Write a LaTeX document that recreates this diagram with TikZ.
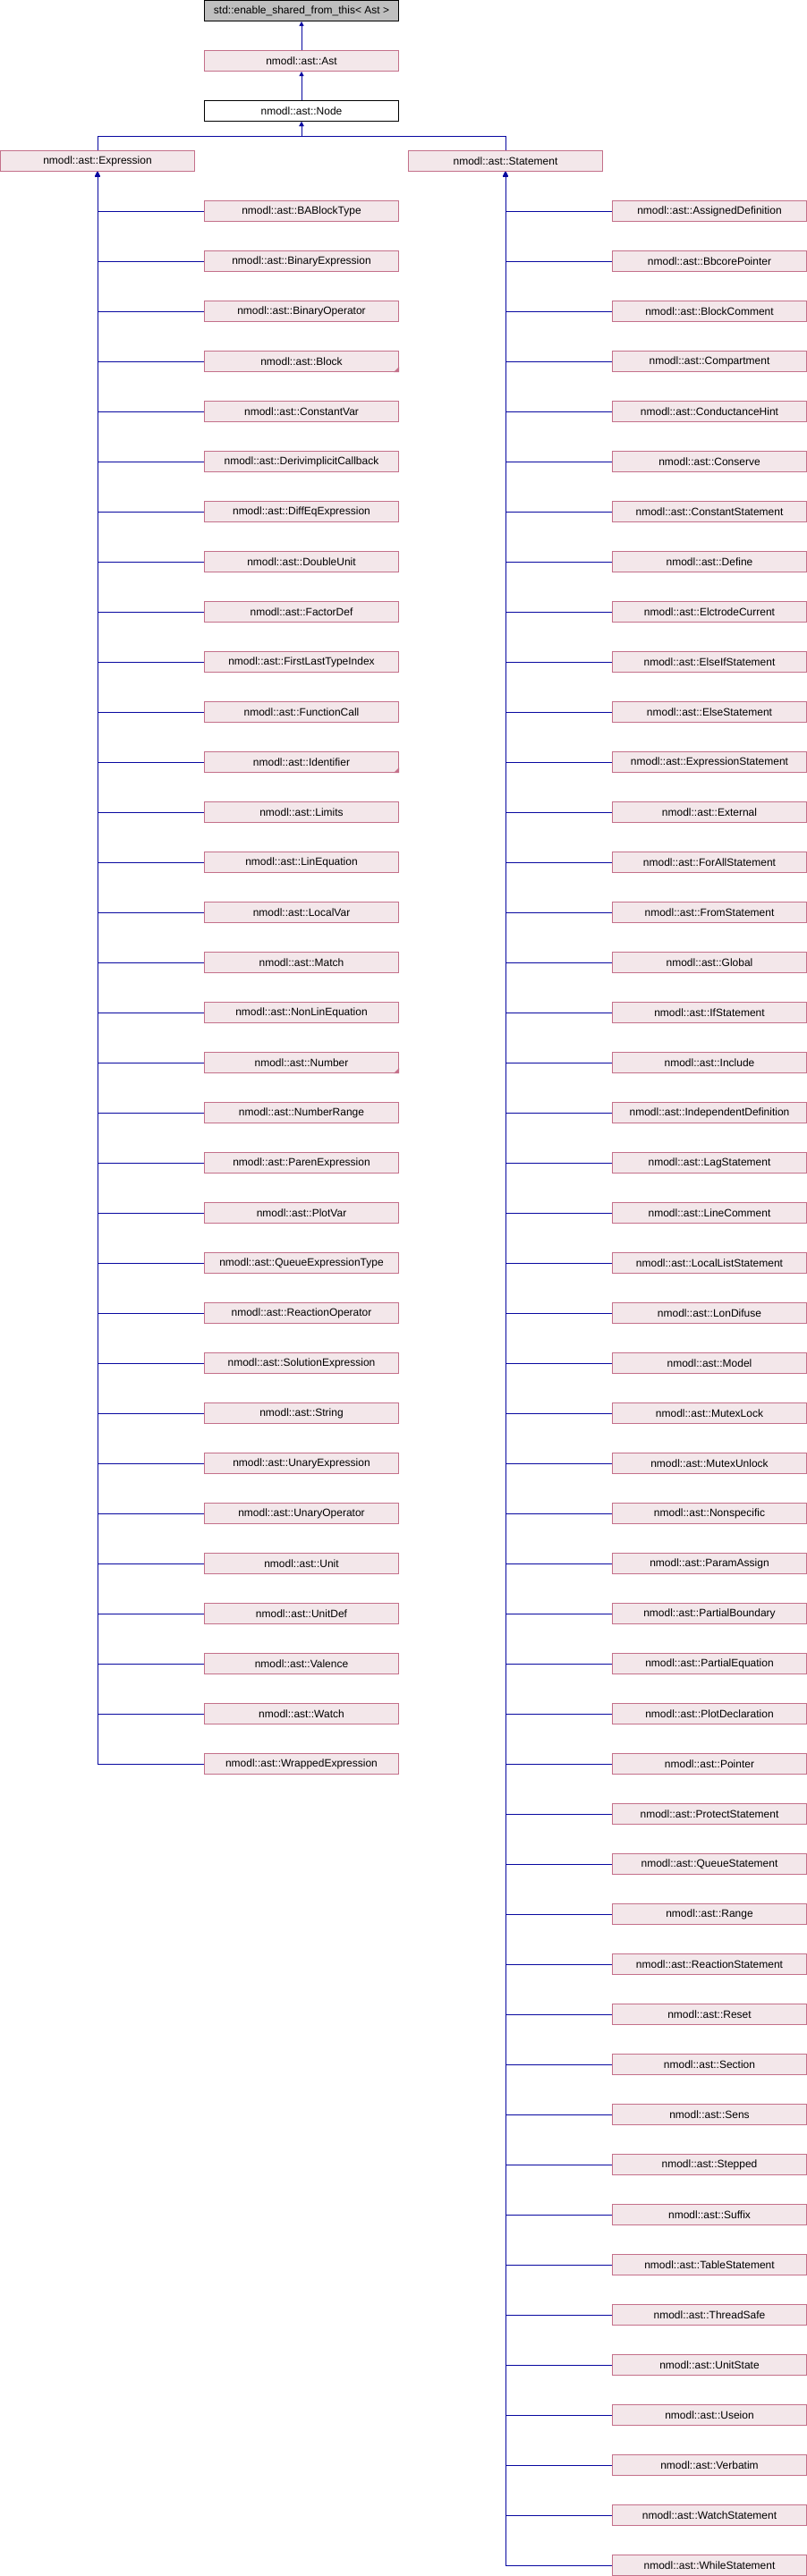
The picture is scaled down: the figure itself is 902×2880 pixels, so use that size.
\documentclass[tikz,border=0pt]{standalone}
\usepackage{fontspec}
\setmainfont{Liberation Sans}
\usetikzlibrary{arrows.meta}
\definecolor{boxfill}{RGB}{243,231,234}
\definecolor{boxdraw}{RGB}{196,112,138}
\definecolor{edgecol}{RGB}{8,8,160}
\definecolor{topfill}{RGB}{191,191,191}
\begin{document}
\begin{tikzpicture}[x=1pt,y=-1pt,
  box/.style={draw=boxdraw, fill=boxfill, line width=1pt, rectangle, anchor=north west,
    minimum width=217pt, minimum height=23pt, inner sep=0pt,
    font=\fontsize{12}{14}\selectfont},
  plainbox/.style={box, draw=black, fill=white},
  greybox/.style={box, draw=black, fill=topfill},
  edge/.style={draw=edgecol, line width=1pt, -{Triangle[width=5pt,length=5pt]}},
  cornermark/.style={fill=boxdraw}
]
\useasboundingbox (0,0) rectangle (902,2880);
\node[greybox] (top) at (228,0) {std::enable\_shared\_from\_this\textless{} Ast \textgreater};
\node[box] (ast) at (228,56) {nmodl::ast::Ast};
\node[plainbox] (node) at (228,112) {nmodl::ast::Node};
\node[box] (expr) at (0,168) {nmodl::ast::Expression};
\node[box] (stmt) at (456,168) {nmodl::ast::Statement};
\draw[edge] (ast.north) -- (top.south);
\draw[edge] (node.north) -- (ast.south);
\draw[edge] (expr.north) -- ++(0,-16) -| (node.south);
\draw[edge] (stmt.north) -- ++(0,-16) -| (node.south);
\foreach \n [count=\i] in {BABlockType,BinaryExpression,BinaryOperator,Block,ConstantVar,DerivimplicitCallback,DiffEqExpression,DoubleUnit,FactorDef,FirstLastTypeIndex,FunctionCall,Identifier,Limits,LinEquation,LocalVar,Match,NonLinEquation,Number,NumberRange,ParenExpression,PlotVar,QueueExpressionType,ReactionOperator,SolutionExpression,String,UnaryExpression,UnaryOperator,Unit,UnitDef,Valence,Watch,WrappedExpression}{
  \node[box] (e\i) at (228,{224+56*(\i-1)}) {nmodl::ast::\n};
  \draw[edge] (e\i.west) -| (expr.south);
}
\foreach \n [count=\i] in {AssignedDefinition,BbcorePointer,BlockComment,Compartment,ConductanceHint,Conserve,ConstantStatement,Define,ElctrodeCurrent,ElseIfStatement,ElseStatement,ExpressionStatement,External,ForAllStatement,FromStatement,Global,IfStatement,Include,IndependentDefinition,LagStatement,LineComment,LocalListStatement,LonDifuse,Model,MutexLock,MutexUnlock,Nonspecific,ParamAssign,PartialBoundary,PartialEquation,PlotDeclaration,Pointer,ProtectStatement,QueueStatement,Range,ReactionStatement,Reset,Section,Sens,Stepped,Suffix,TableStatement,ThreadSafe,UnitState,Useion,Verbatim,WatchStatement,WhileStatement}{
  \node[box] (s\i) at (684,{224+56*(\i-1)}) {nmodl::ast::\n};
  \draw[edge] (s\i.west) -| (stmt.south);
}
\foreach \k in {4,12,18}{
  \fill[cornermark] (e\k.south east) -- ++(-6,0) -- ++(6,-6) -- cycle;
}
\end{tikzpicture}
\end{document}
